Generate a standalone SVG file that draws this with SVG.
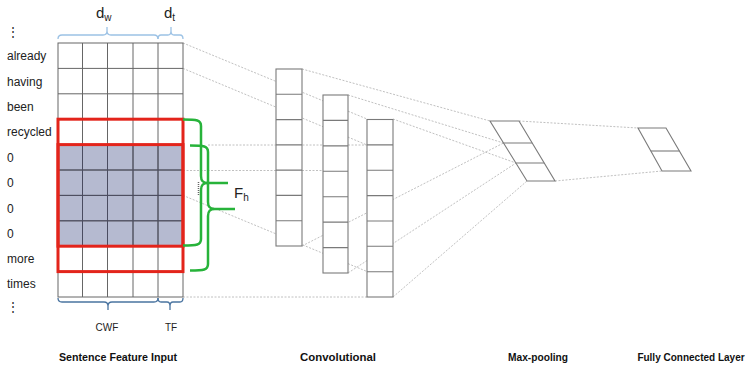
<svg xmlns="http://www.w3.org/2000/svg" width="750" height="370" viewBox="0 0 750 370">
  <style>
    .word { font-family: "Liberation Sans", Arial, sans-serif; font-size: 12px; fill: #222; }
    .dim { font-family: "Liberation Sans", Arial, sans-serif; font-size: 15px; fill: #222; }
    .sub { font-size: 10px; }
    .small { font-family: "Liberation Sans", Arial, sans-serif; font-size: 10px; fill: #222; text-anchor: middle; }
    .title { font-family: "Liberation Sans", Arial, sans-serif; font-size: 11.5px; font-weight: bold; fill: #111; text-anchor: middle; }
    .title.last { font-size: 10px; }
    .cell { fill: none; stroke: #666; stroke-width: 1; }
    .conv { fill: #fff; stroke: #7a7a7a; stroke-width: 1.1; }
    .dot { fill: none; stroke: #b0b0b0; stroke-width: 0.8; stroke-dasharray: 2 1.5; }
    .red { fill: none; stroke: #e3241b; stroke-width: 3; }
    .green { fill: none; stroke: #27b33a; stroke-width: 2.5; stroke-linejoin: round; }
    .brace-top { fill: none; stroke: #9cc2e5; stroke-width: 1.3; }
    .brace-bot { fill: none; stroke: #4a74a0; stroke-width: 1.3; }
  </style>
  <rect width="750" height="370" fill="#fff"/>

  <!-- dotted connectors between layers -->
  <g id="connectors">
    <line class="dot" x1="183" y1="43" x2="367" y2="119"/>
    <line class="dot" x1="183" y1="68.4" x2="367" y2="145"/>
    <line class="dot" x1="208" y1="145" x2="367" y2="145"/>
    <line class="dot" x1="183" y1="170.5" x2="323" y2="170.5"/>
    <line class="dot" x1="183" y1="195.4" x2="367" y2="271.5"/>
    <line class="dot" x1="183" y1="297" x2="367" y2="297"/>
    <line class="dot" x1="302" y1="69" x2="490" y2="121"/>
    <line class="dot" x1="348" y1="95" x2="503.5" y2="143"/>
    <line class="dot" x1="393" y1="119" x2="516" y2="163"/>
    <line class="dot" x1="302" y1="246" x2="503.5" y2="143"/>
    <line class="dot" x1="348" y1="273" x2="516" y2="163"/>
    <line class="dot" x1="393" y1="297" x2="527" y2="181"/>
    <line class="dot" x1="519" y1="121" x2="638" y2="128"/>
    <line class="dot" x1="555" y1="181" x2="662" y2="171"/>
  </g>

  <!-- sentence feature input matrix -->
  <g id="input">
    <text class="word" x="7" y="36" font-size="8">⋮</text>
    <text class="word" x="7" y="60">already</text>
    <text class="word" x="7" y="85.5">having</text>
    <text class="word" x="7" y="111">been</text>
    <text class="word" x="7" y="136">recycled</text>
    <text class="word" x="7" y="161.5">0</text>
    <text class="word" x="7" y="187">0</text>
    <text class="word" x="7" y="212.5">0</text>
    <text class="word" x="7" y="238">0</text>
    <text class="word" x="7" y="263">more</text>
    <text class="word" x="7" y="288">times</text>
    <text class="word" x="7" y="311" font-size="8">⋮</text>

    <rect x="58" y="144.6" width="125" height="101.6" fill="#b5bad0"/>
    <g class="cell">
      <rect x="58" y="43" width="125" height="254"/>
      <path d="M82.5 43V297M107.5 43V297M133 43V297M158 43V297"/>
      <path d="M58 68.4H183M58 93.8H183M58 119.2H183M58 144.6H183M58 170H183M58 195.4H183M58 220.8H183M58 246.2H183M58 271.6H183"/>
    </g>
    <path d="M82.5 144.6V246.2M107.5 144.6V246.2M133 144.6V246.2M158 144.6V246.2M58 170H183M58 195.4H183M58 220.8H183" stroke="#4a4c60" stroke-width="1" fill="none"/>

    <rect class="red" x="58" y="119.2" width="125" height="127"/>
    <rect class="red" x="58" y="144.6" width="125" height="127"/>
  </g>

  <!-- dimension braces and labels -->
  <g id="dimensions">
    <path class="brace-top" d="M58 39Q58 35 62 35H103Q107 35 107 31V27M107 31Q107 35 111 35H154Q158 35 158 39"/>
    <path class="brace-top" d="M158 39Q158 35 161 35H168Q171 35 171 31V27M171 31Q171 35 174 35H180Q183 35 183 39"/>
    <text class="dim" x="96" y="18">d<tspan class="sub" dy="3">w</tspan></text>
    <text class="dim" x="164" y="18">d<tspan class="sub" dy="3">t</tspan></text>

    <path class="brace-bot" d="M58 298Q58 302 62 302H104Q108 302 108 306V310M108 306Q108 302 112 302H154Q158 302 158 298"/>
    <path class="brace-bot" d="M158 298Q158 302 161 302H167Q170 302 170 306V310M170 306Q170 302 173 302H180Q183 302 183 298"/>
    <text class="small" x="107" y="331">CWF</text>
    <text class="small" x="171" y="331">TF</text>
  </g>

  <!-- filter height braces -->
  <g id="filter">
    <path class="green" d="M183 119.5C197 119.5 201 120 201 126V176C201 181 203 183 208 183H228M208 183C203 183 201 185 201 190V239C201 245 197 245.5 183 245.5"/>
    <path class="green" d="M190 145.5C204 145.5 208 146 208 152V202C208 207 210 209 215 209H235M215 209C210 209 208 211 208 216V264C208 270 204 270.5 190 270.5"/>
    <line x1="198.5" y1="182" x2="198.5" y2="196" stroke="#666" stroke-width="1.5" stroke-dasharray="1 1"/>
    <text class="dim" x="234" y="198">F<tspan class="sub" dy="3">h</tspan></text>
  </g>

  <!-- convolutional feature maps -->
  <g id="conv1">
    <rect class="conv" x="276" y="69" width="26" height="177"/>
    <path class="conv" d="M276 94.3H302M276 119.6H302M276 144.9H302M276 170.1H302M276 195.4H302M276 220.7H302"/>
  </g>
  <g id="conv2">
    <rect class="conv" x="323" y="95" width="25" height="178"/>
    <path class="conv" d="M323 120.4H348M323 145.9H348M323 171.3H348M323 196.7H348M323 222.1H348M323 247.6H348"/>
  </g>
  <g id="conv3">
    <rect class="conv" x="367" y="119.5" width="26" height="177.5"/>
    <path class="conv" d="M367 144.9H393M367 170.2H393M367 195.6H393M367 221H393M367 246.3H393M367 271.7H393"/>
  </g>

  <!-- max-pooling -->
  <g id="maxpool">
    <path class="conv" d="M490 121H519L555 181H527Z"/>
    <path class="conv" d="M503.5 143H532.2M516 163H544.2"/>
  </g>

  <!-- fully connected layer -->
  <g id="fc">
    <path class="conv" d="M638 128H666L691 171H662Z"/>
    <path class="conv" d="M650.8 151H679.4"/>
  </g>

  <!-- stage captions -->
  <g id="captions">
    <text class="title" x="118" y="361" textLength="118" lengthAdjust="spacingAndGlyphs">Sentence Feature Input</text>
    <text class="title" x="338" y="361" textLength="76" lengthAdjust="spacingAndGlyphs">Convolutional</text>
    <text class="title" x="538" y="361" textLength="60" lengthAdjust="spacingAndGlyphs">Max-pooling</text>
    <text class="title last" x="691" y="361">Fully Connected Layer</text>
  </g>
</svg>
